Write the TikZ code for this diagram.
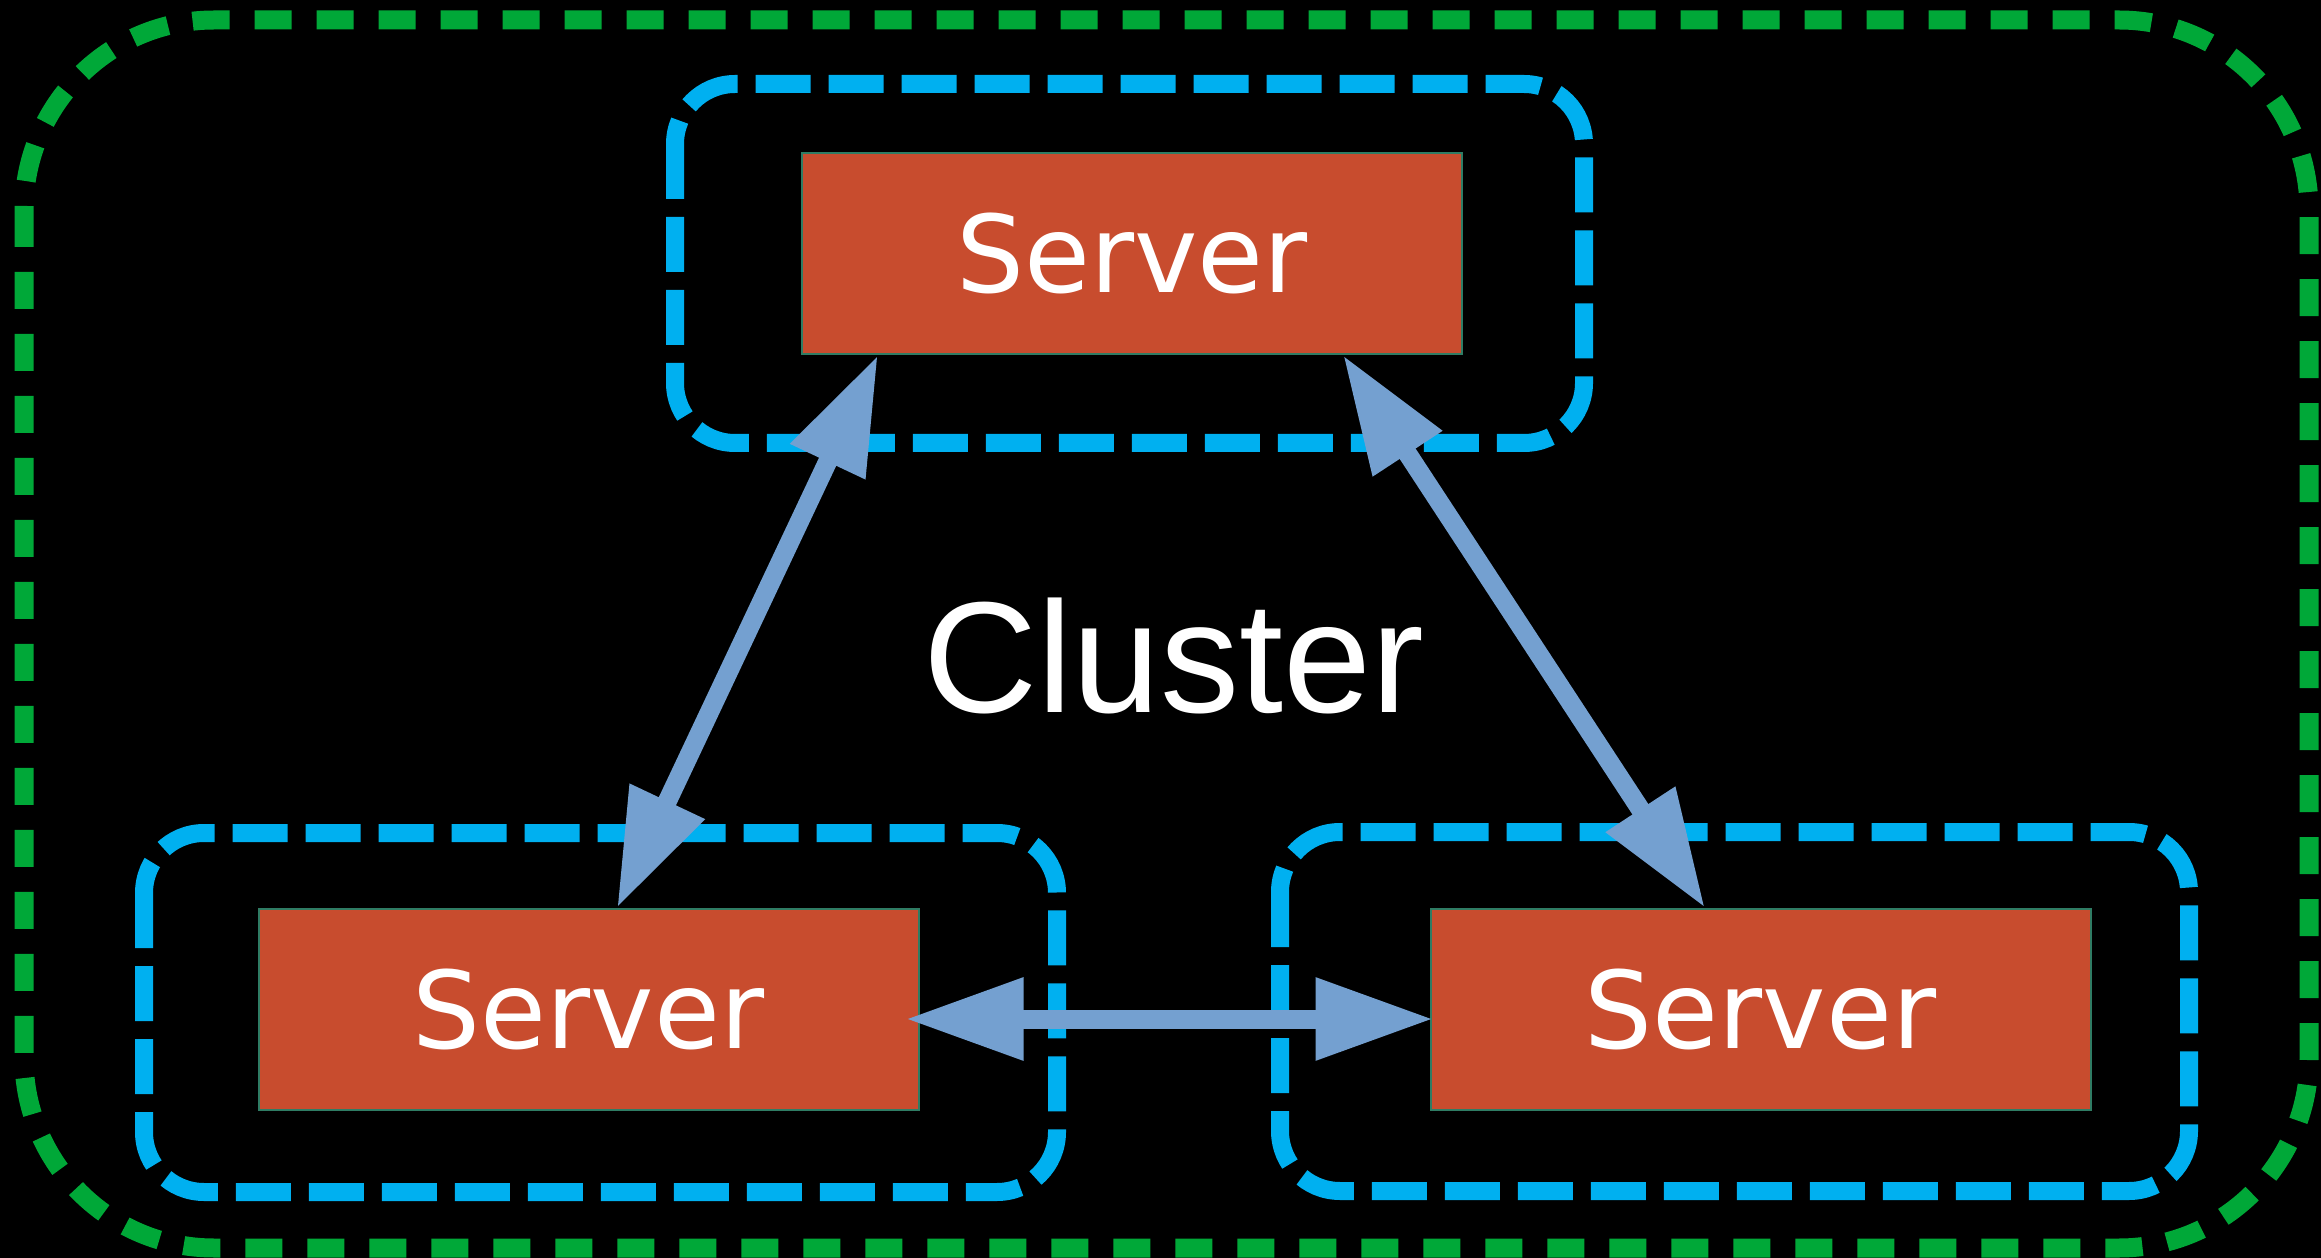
\documentclass[tikz,border=0pt]{standalone}
\usepackage{fontspec}
\setmainfont{DejaVu Sans}
\newfontfamily\clusterfont{Liberation Sans}
\usetikzlibrary{arrows.meta}
\definecolor{srvred}{HTML}{C84C2E}
\definecolor{srvedge}{HTML}{2F7C64}
\definecolor{grpblue}{HTML}{00B0F0}
\definecolor{clgreen}{HTML}{00A838}
\definecolor{linkblue}{HTML}{74A0D0}
\tikzset{
  server/.style={draw=srvedge, line width=.2mm, fill=srvred, text=white, inner sep=0pt,
    minimum width=66mm, minimum height=20.1mm, font=\fontsize{30.5}{36}\selectfont},
  group/.style={draw=grpblue, line width=1.8mm, dash pattern=on 5.5mm off 1.8mm, rounded corners=6mm},
  outer/.style={draw=clgreen, line width=1.9mm, dash pattern=on 3.7mm off 2.5mm, rounded corners=19mm},
  link/.style={draw=linkblue, line width=1.9mm, {Triangle[length=11.8mm,width=7.8mm]}-{Triangle[length=11.8mm,width=7.8mm]}}
}

\begin{document}
\begin{tikzpicture}[x=.1mm, y=-.1mm]
\useasboundingbox (0,0) rectangle (2321,1258);
\fill[black] (0,0) rectangle (2321,1258);
\draw[outer] (24,20) rectangle (2309,1248);
\foreach \xa/\ya/\xb/\yb in {675/84/1584/443, 144/833/1057/1192, 1280/832/2189/1191}
  \draw[group] (\xa,\ya) rectangle (\xb,\yb);
\foreach \nm/\x/\y in {srvTop/1132/253.5, srvLeft/588.5/1009.5, srvRight/1760.5/1009.5}
  \node[server] (\nm) at (\x,\y) {Server};
\node[anchor=base, text=white, font=\clusterfont\fontsize{45}{54}\selectfont] (cluster) at (1174,712) {Cluster};
\draw[link] ([xshift=7.7mm]srvTop.south west) -- ([xshift=2.85mm]srvLeft.north);
\draw[link] ([xshift=-12mm]srvTop.south east) -- ([xshift=-5.55mm]srvRight.north);
\draw[link] ([shift={(-1.4mm,-.95mm)}]srvLeft.east) -- ([shift={(.4mm,-.95mm)}]srvRight.west);
\end{tikzpicture}
\end{document}
